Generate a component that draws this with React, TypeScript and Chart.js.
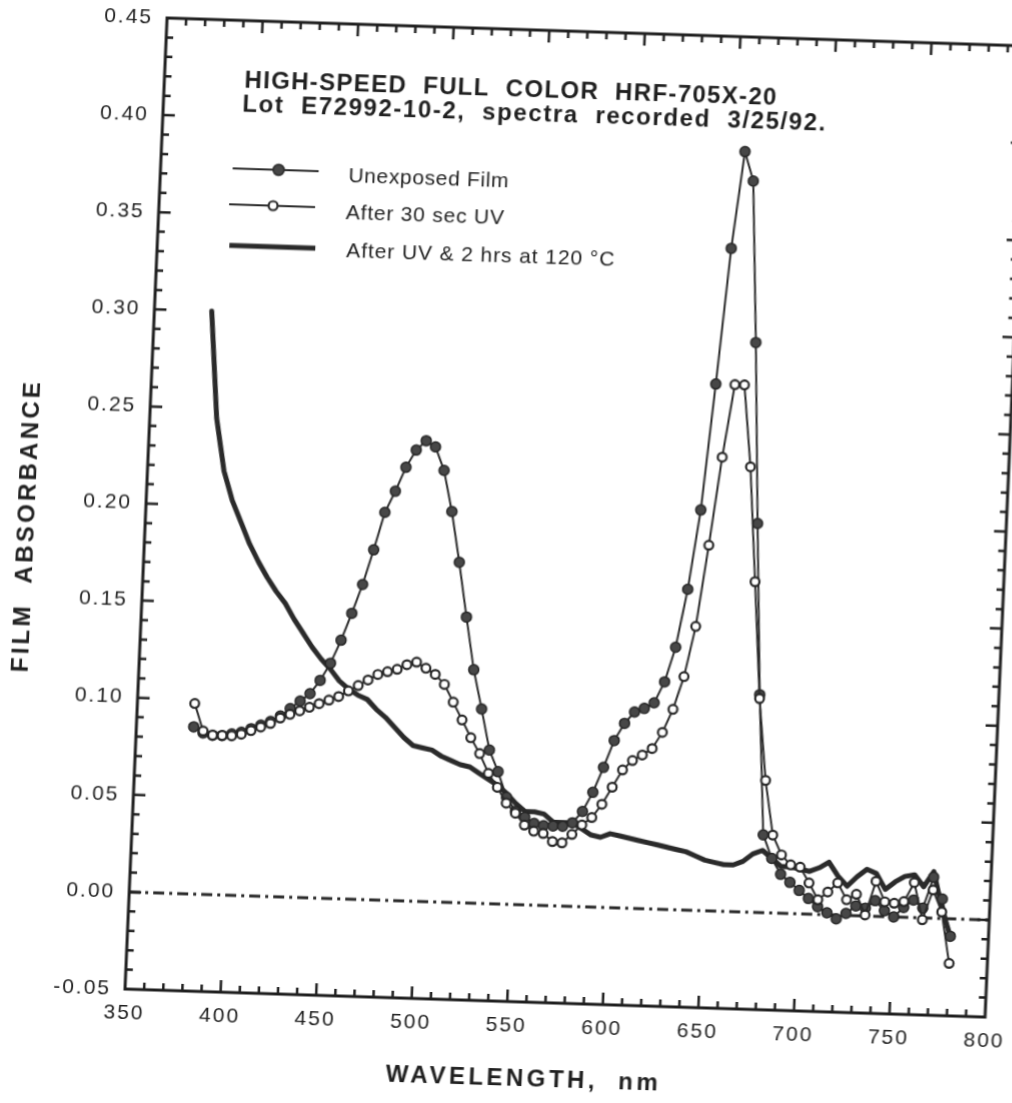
import React, { useEffect, useRef } from "react";
import { Chart, registerables } from "chart.js";

Chart.register(...registerables);

// ---------- data (true chart values) ----------
const WAVELENGTHS = [
  380, 385, 390, 395, 400, 405, 410, 415, 420, 425,
  430, 435, 440, 445, 450, 455, 460, 465, 470, 475,
  480, 485, 490, 495, 500, 505, 510, 515, 520, 525,
  530, 535, 540, 545, 550, 555, 560, 565, 570, 575,
  580, 585, 590, 595, 600, 605, 610, 615, 620, 625,
  630, 635, 640, 645, 650, 655, 660, 665, 670, 675,
  680, 685, 690, 695, 700, 705, 710, 715, 720, 725,
  730, 735, 740, 745, 750, 755, 760, 765, 770, 775,
  780,
];

const UNEXPOSED = [
  0.086, 0.083, 0.082, 0.082, 0.083, 0.084, 0.086, 0.088, 0.090, 0.093,
  0.097, 0.101, 0.105, 0.112, 0.121, 0.133, 0.147, 0.162, 0.180, 0.1995,
  0.2105, 0.223, 0.232, 0.237, 0.234, 0.222, 0.201, 0.175, 0.147, 0.120,
  0.100, 0.079, 0.068, 0.055, 0.048, 0.045, 0.042, 0.041, 0.041, 0.041,
  0.043, 0.049, 0.059, 0.072, 0.086, 0.095, 0.101, 0.103, 0.106, 0.117,
  0.135, 0.165, 0.206, 0.271, 0.341, 0.391, 0.376, 0.293, 0.200, 0.112,
  0.040, 0.028, 0.020, 0.016, 0.012, 0.008, 0.004, 0.001, -0.002, 0.001,
  0.005, 0.004, 0.008, 0.003, 0.000, 0.005, 0.009, 0.005, 0.021, 0.010,
  -0.009,
];

const AFTER_UV = [
  0.098, 0.084, 0.082, 0.082, 0.082, 0.083, 0.085, 0.087, 0.089, 0.092,
  0.094, 0.096, 0.098, 0.100, 0.102, 0.104, 0.107, 0.110, 0.113, 0.116,
  0.1176, 0.119, 0.1215, 0.123, 0.120, 0.117, 0.112, 0.103, 0.094, 0.085,
  0.077, 0.067, 0.060, 0.052, 0.047, 0.041, 0.038, 0.037, 0.033, 0.0325,
  0.037, 0.042, 0.046, 0.053, 0.062, 0.071, 0.076, 0.079, 0.0825, 0.091,
  0.103, 0.120, 0.146, 0.188, 0.2335, 0.271, 0.271, 0.229, 0.170, 0.110,
  0.068, 0.040, 0.030, 0.025, 0.024, 0.016, 0.0075, 0.0117, 0.0165, 0.008,
  0.011, 0.0005, 0.018, 0.0076, 0.007, 0.008, 0.018, -0.001, 0.0145, 0.0033,
  -0.023,
];

const AFTER_BAKE = [
  0.300, 0.245, 0.218, 0.203, 0.192, 0.181, 0.172, 0.164, 0.157, 0.151,
  0.143, 0.136, 0.129, 0.123, 0.118, 0.112, 0.108, 0.105, 0.103, 0.098,
  0.094, 0.089, 0.084, 0.080, 0.079, 0.078, 0.075, 0.073, 0.071, 0.070,
  0.067, 0.064, 0.061, 0.057, 0.052, 0.048, 0.048, 0.047, 0.043, 0.043,
  0.043, 0.040, 0.037, 0.036, 0.038, 0.037, 0.036, 0.035, 0.034, 0.033,
  0.032, 0.031, 0.030, 0.028, 0.026, 0.025, 0.024, 0.024, 0.026, 0.030,
  0.032, 0.028, 0.024, 0.024, 0.023, 0.022, 0.024, 0.027, 0.020, 0.015,
  0.020, 0.024, 0.022, 0.014, 0.018, 0.021, 0.022, 0.016, 0.024, 0.005,
  -0.009,
];

const ZERO_LINE_X = [350, 800];
const ZERO_LINE_Y = [0, 0];

const SERIES_NAMES = ["Unexposed Film", "After 30 sec UV", "After UV & 2 hrs at 120 \u00B0C"];
const TITLE_LINES = [
  "HIGH-SPEED  FULL  COLOR  HRF-705X-20",
  "Lot  E72992-10-2,  spectra  recorded  3/25/92.",
];
const X_TITLE = "WAVELENGTH,  nm";
const Y_TITLE = "FILM  ABSORBANCE";

const X_MIN = 350, X_MAX = 800, X_STEP = 50, X_MINOR = 10;
const Y_MIN = -0.05, Y_MAX = 0.45, Y_STEP = 0.05, Y_MINOR = 0.01;

// ---------- style ----------
const FONT = "'Liberation Sans', Arial, Helvetica, sans-serif";
const INK = "#1f1f1f";
const LINE = "#2a2a2a";
const DOT = "#474747";

const toXY = (xs: number[], ys: number[]) => xs.map((x, i) => ({ x, y: ys[i] }));

function fitText(ctx: any, text: string, x: number, y: number, width: number) {
  ctx.letterSpacing = "0px";
  const w0 = ctx.measureText(text).width;
  const n = Array.from(text).length;
  const ls = n > 1 ? (width - w0) / (n - 1) : 0;
  ctx.letterSpacing = ls.toFixed(2) + "px";
  ctx.fillText(text, x, y);
  ctx.letterSpacing = "0px";
}

const decorPlugin = {
  id: "decor",
  beforeDraw(chart: any) {
    (chart.ctx as any).letterSpacing = "2px";
  },
  afterDraw(chart: any) {
    const ctx = chart.ctx as any;
    ctx.save();
    ctx.letterSpacing = "0px";
    const { left, right, top, bottom } = chart.chartArea;
    const xs = chart.scales.x;
    const ys = chart.scales.y;

    // tick marks (inward, on all four sides)
    ctx.strokeStyle = INK;
    ctx.lineWidth = 2.5;
    ctx.lineCap = "butt";
    const nx = Math.round((X_MAX - X_MIN) / X_MINOR);
    for (let i = 1; i < nx; i++) {
      const v = X_MIN + i * X_MINOR;
      const px = xs.getPixelForValue(v);
      const len = (i * X_MINOR) % X_STEP === 0 ? 12 : 7;
      ctx.beginPath();
      ctx.moveTo(px, bottom); ctx.lineTo(px, bottom - len);
      ctx.moveTo(px, top); ctx.lineTo(px, top + len);
      ctx.stroke();
    }
    const ny = Math.round((Y_MAX - Y_MIN) / Y_MINOR);
    const per = Math.round(Y_STEP / Y_MINOR);
    for (let i = 1; i < ny; i++) {
      const v = Y_MIN + i * Y_MINOR;
      const py = ys.getPixelForValue(v);
      const len = i % per === 0 ? 12 : 7;
      ctx.beginPath();
      ctx.moveTo(left, py); ctx.lineTo(left + len, py);
      ctx.moveTo(right, py); ctx.lineTo(right - len, py);
      ctx.stroke();
    }

    // frame
    ctx.lineWidth = 3;
    ctx.strokeRect(left, top, right - left, bottom - top);

    // title inside plot
    ctx.fillStyle = INK;
    ctx.textAlign = "left";
    ctx.textBaseline = "alphabetic";
    ctx.font = `bold 24px ${FONT}`;
    fitText(ctx, TITLE_LINES[0], left + 80, top + 67, 532);
    fitText(ctx, TITLE_LINES[1], left + 79, top + 91, 583);

    // legend
    const rows = [
      { y: top + 148, ty: top + 158 },
      { y: top + 184, ty: top + 195 },
      { y: top + 225, ty: top + 233 },
    ];
    const lx0 = left + 72, lx1 = left + 158, mx = left + 118, tx = left + 188;
    ctx.strokeStyle = LINE;
    // row 1
    ctx.lineWidth = 2;
    ctx.beginPath(); ctx.moveTo(lx0, rows[0].y); ctx.lineTo(lx1, rows[0].y); ctx.stroke();
    ctx.beginPath(); ctx.arc(mx, rows[0].y, 5.5, 0, Math.PI * 2);
    ctx.fillStyle = DOT; ctx.fill(); ctx.lineWidth = 1.5; ctx.stroke();
    // row 2
    ctx.lineWidth = 2;
    ctx.beginPath(); ctx.moveTo(lx0 - 2, rows[1].y); ctx.lineTo(lx1 - 2, rows[1].y); ctx.stroke();
    ctx.beginPath(); ctx.arc(mx - 4, rows[1].y, 4.5, 0, Math.PI * 2);
    ctx.fillStyle = "#ffffff"; ctx.fill(); ctx.lineWidth = 2.2; ctx.stroke();
    // row 3
    ctx.lineWidth = 5;
    ctx.beginPath(); ctx.moveTo(lx0, rows[2].y); ctx.lineTo(lx1, rows[2].y); ctx.stroke();

    ctx.fillStyle = INK;
    ctx.font = `21px ${FONT}`;
    fitText(ctx, SERIES_NAMES[0], tx, rows[0].ty, 160);
    fitText(ctx, SERIES_NAMES[1], tx - 1, rows[1].ty, 158);
    fitText(ctx, SERIES_NAMES[2], tx + 1, rows[2].ty, 268);

    // axis titles
    ctx.font = `bold 24px ${FONT}`;
    ctx.textBaseline = "alphabetic";
    fitText(ctx, X_TITLE, left + 264, bottom + 84, 272);

    ctx.translate(left - 118, top + 658);
    ctx.rotate(-Math.PI / 2);
    ctx.textBaseline = "middle";
    fitText(ctx, Y_TITLE, 0, 0, 290);
    ctx.restore();
  },
};

export default function App() {
  const ref = useRef<HTMLCanvasElement | null>(null);

  useEffect(() => {
    const canvas = ref.current;
    if (!canvas) return;
    const chart = new Chart(canvas, {
      type: "line",
      data: {
        datasets: [
          {
            label: "zero",
            data: toXY(ZERO_LINE_X, ZERO_LINE_Y),
            borderColor: LINE,
            borderWidth: 3,
            borderDash: [11, 5, 3, 5],
            pointRadius: 0,
            order: 4,
          },
          {
            label: SERIES_NAMES[2],
            data: toXY(WAVELENGTHS, AFTER_BAKE),
            borderColor: LINE,
            borderWidth: 5,
            borderJoinStyle: "round",
            borderCapStyle: "round",
            pointRadius: 0,
            order: 3,
          },
          {
            label: SERIES_NAMES[0],
            data: toXY(WAVELENGTHS, UNEXPOSED),
            borderColor: LINE,
            borderWidth: 2,
            pointRadius: 5,
            pointBackgroundColor: DOT,
            pointBorderColor: "#262626",
            pointBorderWidth: 1.5,
            order: 2,
          },
          {
            label: SERIES_NAMES[1],
            data: toXY(WAVELENGTHS, AFTER_UV),
            borderColor: LINE,
            borderWidth: 2,
            pointRadius: 4.4,
            pointBackgroundColor: "#ffffff",
            pointBorderColor: "#262626",
            pointBorderWidth: 2.2,
            order: 1,
          },
        ],
      },
      options: {
        responsive: false,
        animation: false,
        devicePixelRatio: 1,
        layout: { padding: { left: 0, top: 58, right: 75, bottom: 0 } },
        plugins: {
          legend: { display: false },
          title: { display: false },
          tooltip: { enabled: false },
        },
        elements: { line: { tension: 0 } },
        scales: {
          x: {
            type: "linear",
            min: X_MIN,
            max: X_MAX,
            grid: { display: false, drawTicks: false },
            border: { display: false },
            ticks: {
              stepSize: X_STEP,
              padding: 12,
              maxRotation: 0,
              autoSkip: false,
              color: INK,
              font: { family: FONT, size: 21 },
              callback: (v: any) => String(v),
            },
            afterFit: (s: any) => { s.height = 171; },
          },
          y: {
            type: "linear",
            min: Y_MIN,
            max: Y_MAX,
            grid: { display: false, drawTicks: false },
            border: { display: false },
            ticks: {
              stepSize: Y_STEP,
              padding: 14,
              autoSkip: false,
              color: INK,
              font: { family: FONT, size: 21 },
              callback: (v: any) => (Math.abs(Number(v)) < 1e-9 ? "0.00" : Number(v).toFixed(2)),
            },
            afterFit: (s: any) => { s.width = 165; },
          },
        },
      },
      plugins: [decorPlugin],
    } as any);
    return () => chart.destroy();
  }, []);

  return (
    <div
      style={{
        position: "fixed",
        left: 0,
        top: 0,
        width: 1012,
        height: 1103,
        overflow: "hidden",
        background: "#ffffff",
      }}
    >
      <canvas
        ref={ref}
        width={1100}
        height={1200}
        style={{
          position: "absolute",
          left: -40,
          top: -40,
          width: 1100,
          height: 1200,
          transform: "matrix(1, 0.0326, -0.0433, 1, 0, 0)",
          transformOrigin: "165px 1029px",
        }}
      />
    </div>
  );
}
